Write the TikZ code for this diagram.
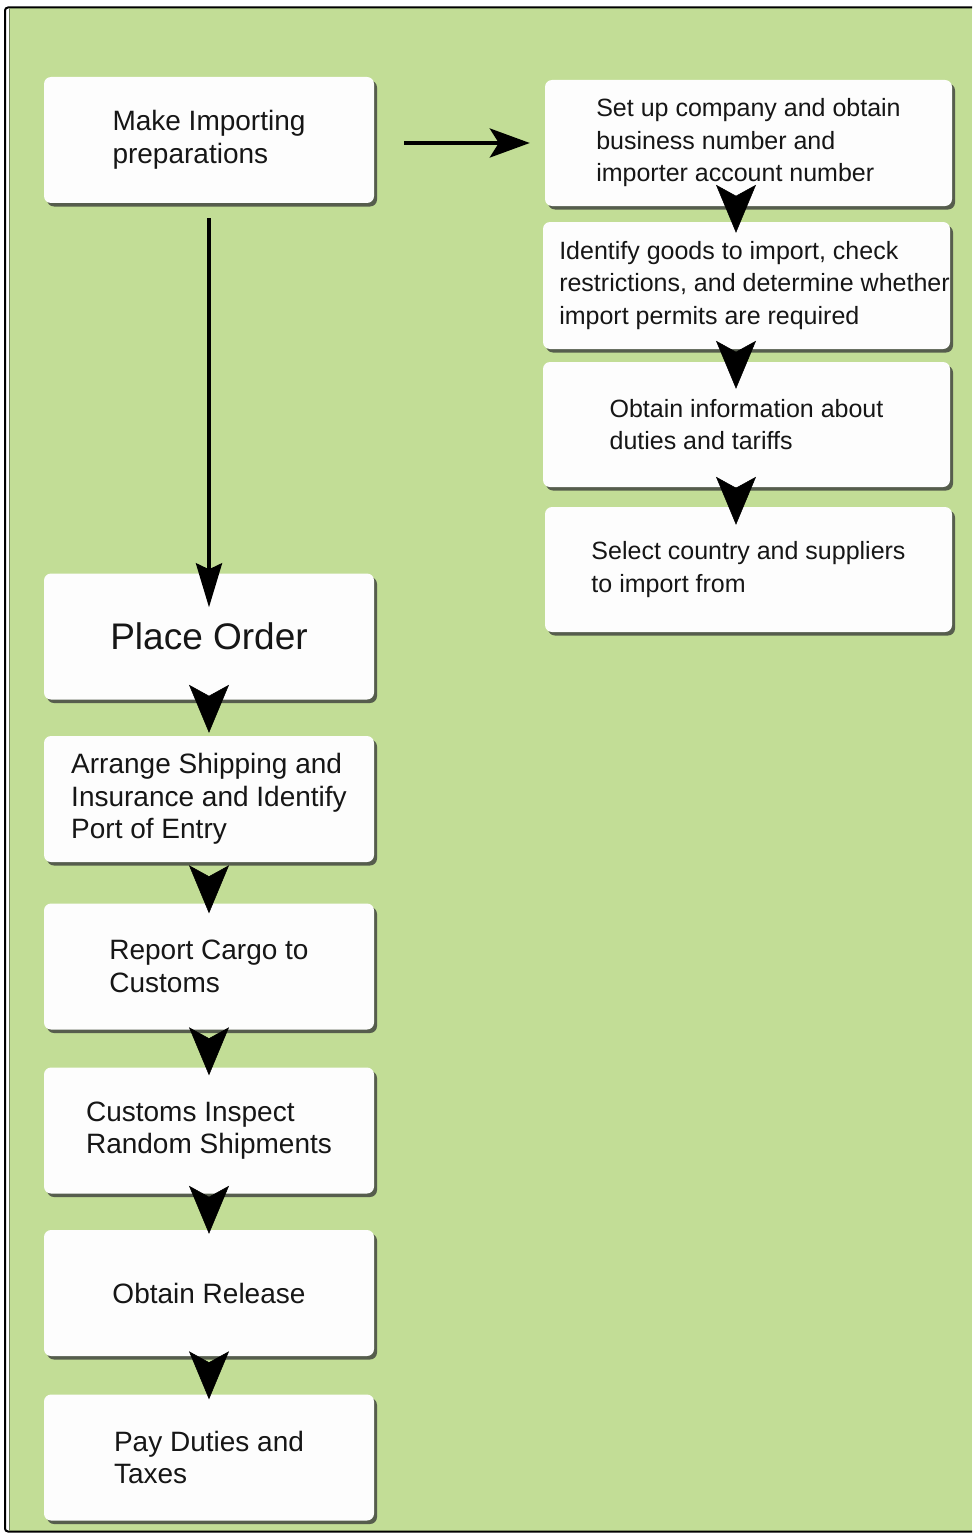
\documentclass[tikz,border=0pt]{standalone}
\usepackage{fontspec}
\setmainfont{Liberation Sans}
\usetikzlibrary{shadows,arrows.meta,calc}
\definecolor{bggreen}{RGB}{194,221,150}
\definecolor{edgegreen}{RGB}{105,120,85}
\definecolor{shadowgray}{RGB}{75,80,70}
\definecolor{boxwhite}{RGB}{253,253,253}
\definecolor{ink}{RGB}{22,22,22}
\begin{document}
\begin{tikzpicture}[x=1pt,y=-1pt,
  box/.style={fill=boxwhite, rounded corners=7pt, align=left, text=ink, inner sep=0pt,
    drop shadow={shadow xshift=3pt,shadow yshift=-3.5pt,fill=shadowgray,opacity=0.9}},
  lbox/.style={box, minimum width=330pt, minimum height=126pt, font=\fontsize{28}{32.5}\selectfont},
  rbox/.style={box, minimum width=407pt, minimum height=126pt, font=\fontsize{25}{32.5}\selectfont},
  chain/.style={-{Stealth[length=48pt,width=40pt,inset=11pt]}, line width=0.5pt, draw=black},
  longarrow/.style={-{Stealth[length=44pt,width=26pt,inset=6pt]}, line width=4pt, draw=black},
  sidearrow/.style={-{Stealth[length=40pt,width=29pt,inset=9pt]}, line width=4pt, draw=black},
]
\useasboundingbox (0,0) rectangle (972,1533);
% background and frame
\fill[white] (0,0) rectangle (972,1533);
\fill[bggreen] (9,8.5) rectangle (972,1530.5);
\draw[black, line width=2pt, rounded corners=3pt] (972,7.5) -- (5,7.5) -- (5,1531.5) -- (972,1531.5);
\draw[edgegreen, line width=1.2pt] (9.6,9) -- (9.6,1530);

% left column
\node[lbox] (n1) at (209,140)    {Make Importing\\preparations};
\node[lbox, font=\fontsize{37}{40}\selectfont] (po) at (209,636.5) {Place Order};
\node[lbox] (ar) at (209,799)    {Arrange Shipping and\\Insurance and Identify\\Port of Entry};
\node[lbox] (rc) at (209,966.5)  {Report Cargo to\\Customs};
\node[lbox] (ci) at (209,1130.5) {Customs Inspect\\Random Shipments};
\node[lbox] (or) at (209,1293)   {Obtain Release};
\node[lbox] (pd) at (209,1457.5) {Pay Duties and\\Taxes};

% right column
\node[rbox] (sa) at (748.5,143)   {Set up company and obtain\\business number and\\importer account number};
\node[rbox, minimum height=127pt] (sb) at (746.5,285.5) {\hspace*{16pt}Identify goods to import, check\\\hspace*{16pt}restrictions, and determine whether\\\hspace*{16pt}import permits are required};
\node[rbox, minimum height=125pt] (sc) at (746.5,424.5) {Obtain information about\\duties and tariffs};
\node[rbox, minimum height=125pt] (sd) at (748.5,569.5) {Select country and suppliers\\to import from};

% main connectors
\draw[sidearrow] ($(n1.east)+(30,3)$) -- ($(sa.west)+(-15,0)$);
\draw[longarrow] ($(n1.south)+(0,15)$) -- ($(po.north)+(0,34)$);

% left chain
\draw[chain] ($(po.south)+(0,-3)$)  -- ($(ar.north)+(0,-3)$);
\draw[chain] ($(ar.south)+(0,15)$)  -- ($(rc.north)+(0,10)$);
\draw[chain] ($(rc.south)+(0,9)$)   -- ($(ci.north)+(0,8)$);
\draw[chain] ($(ci.south)+(0,4)$)   -- ($(or.north)+(0,4)$);
\draw[chain] ($(or.south)+(0,8)$)   -- ($(pd.north)+(0,5)$);

% right chain
\draw[chain] ($(sa.south)+(-12.5,-10)$) -- ($(sb.north)+(-10.5,11)$);
\draw[chain] ($(sb.south)+(-10.5,3)$)   -- ($(sc.north)+(-10.5,27)$);
\draw[chain] ($(sc.south)+(-10.5,1)$)   -- ($(sd.north)+(-12.5,18)$);
\end{tikzpicture}
\end{document}
